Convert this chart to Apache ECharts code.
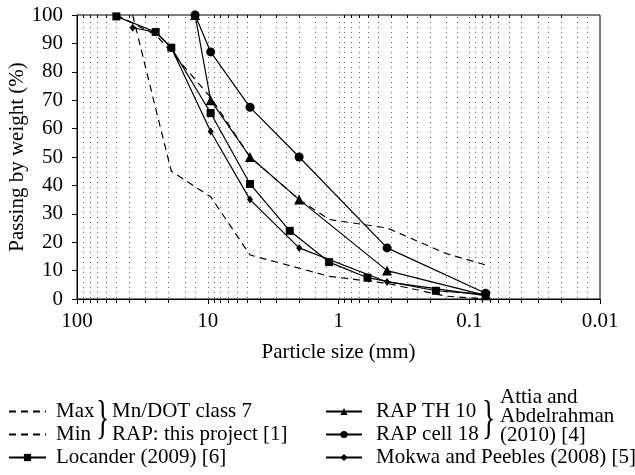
<!DOCTYPE html>
<html><head><meta charset="utf-8">
<script src="https://cdn.jsdelivr.net/npm/echarts@6/dist/echarts.min.js"></script>
<style>html,body{margin:0;padding:0;background:#fff}#c{width:635px;height:475px}</style>
</head><body><div id="c"></div>
<script>
const FONT = 'Liberation Serif';
// ---- data (particle size in mm, passing in %) ----
const maxSizes = [50, 25, 19, 9.5, 4.75, 2.0, 1.18, 0.425, 0.15, 0.075];
const maxPass  = [100, 93, 87, 71, 50, 35, 28, 25, 16, 12];
const minSizes = [37.5, 25, 19, 9.5, 4.75, 1.18, 0.425, 0.15, 0.075];
const minPass  = [100, 67, 45, 36, 15.5, 8, 5.5, 1, 0];
const locSizes = [50, 25, 19, 9.5, 4.75, 2.36, 1.18, 0.6, 0.18, 0.075];
const locPass  = [99.5, 94, 88.5, 65.5, 40.5, 24, 13, 7.5, 2.9, 1.6];
const attiaSizes = [12.5, 9.5, 4.75, 2.0, 0.425, 0.075];
const th10Pass   = [100, 70, 50, 35, 10, 1.3];
const cell18Pass = [100, 87, 67.5, 50, 18, 2];
const mokSizes = [37.5, 25, 19, 9.5, 4.75, 2.0, 0.425, 0.075];
const mokPass  = [95.5, 94, 88.5, 59, 35, 18, 6, 1.2];
// ---- axis furniture ----
const xTickLabels = ['100', '10', '1', '0.1', '0.01'];
const gridSizes = [90,80,70,60,50,40,30,25,20,15,12.5,10,
  9,8,7,6,5,4,3,2.5,2,1.5,1.25,1,
  0.9,0.8,0.7,0.6,0.5,0.4,0.3,0.25,0.2,0.15,0.125,0.1,
  0.09,0.08,0.07,0.06,0.05,0.04,0.03,0.025,0.02,0.015,0.0125];
const minorTickSizes = [90,80,70,60,50,40,30,20, 9,8,7,6,5,4,3,2,
  0.9,0.8,0.7,0.6,0.5,0.4,0.3,0.2, 0.09,0.08,0.07,0.06,0.05,0.04,0.03,0.02];

const pairs = (xs, ys) => xs.map((x, i) => [x, ys[i]]);
const chart = echarts.init(document.getElementById('c'), null, {renderer: 'canvas'});
const txt = {fontFamily: FONT, fontSize: 21, color: '#000'};
const lineBase = {type: 'line', clip: false, color: '#000', z: 5,
  lineStyle: {color: '#000', width: 1.2}, itemStyle: {color: '#000'}};
const hiddenIcon = {color: 'rgba(0,0,0,0)', borderWidth: 0};

chart.setOption({
  animation: false,
  backgroundColor: '#fff',
  grid: {left: 77, right: 35, top: 15, bottom: 176, show: true, borderColor: '#000', borderWidth: 1,
         containLabel: false, outerBoundsMode: 'none'},
  xAxis: {
    type: 'log', logBase: 10, min: 0.01, max: 100, inverse: true,
    name: 'Particle size (mm)', nameLocation: 'middle', nameGap: 43, nameMoveOverlap: false,
    nameTextStyle: txt,
    axisLine: {show: true, lineStyle: {color: '#000', width: 1}},
    axisTick: {show: true, inside: false, length: 5, lineStyle: {color: '#000'}},
    axisLabel: {...txt, margin: 12, formatter: v => {
      const i = [100, 10, 1, 0.1, 0.01].findIndex(t => Math.abs(Math.log10(t) - Math.log10(v)) < 1e-6);
      return i >= 0 ? xTickLabels[i] : '';
    }},
    splitLine: {show: false}, minorTick: {show: false}
  },
  yAxis: {
    type: 'value', min: 0, max: 100, interval: 10,
    name: 'Passing by weight (%)', nameLocation: 'middle', nameGap: 49, nameMoveOverlap: false,
    nameTextStyle: txt,
    axisLine: {show: true, lineStyle: {color: '#000', width: 1}},
    axisTick: {show: true, inside: false, length: 5, lineStyle: {color: '#000'}},
    axisLabel: {...txt, margin: 14},
    splitLine: {show: false}
  },
  legend: [
    {left: 8, top: 401, orient: 'vertical', padding: 0, itemWidth: 37, itemHeight: 9, itemGap: 2,
     textStyle: {...txt, lineHeight: 21, padding: [0, 0, 0, 5]},
     data: [{name: 'Max', itemStyle: hiddenIcon}, {name: 'Min', itemStyle: hiddenIcon}, 'Locander (2009) [6]']},
    {left: 325, top: 401, orient: 'vertical', padding: 0, itemWidth: 36, itemHeight: 9, itemGap: 2,
     textStyle: {...txt, lineHeight: 21, padding: [0, 0, 0, 9]},
     data: ['RAP TH 10', 'RAP cell 18', 'Mokwa and Peebles (2008) [5]']}
  ],
  graphic: [
    {type: 'text', left: 96, top: 398, style: {text: '}', font: '46px "Liberation Serif"', fill: '#000'}, scaleX: 0.6},
    {type: 'text', left: 112, top: 401, style: {text: 'Mn/DOT class 7', font: '21px "Liberation Serif"', fill: '#000'}},
    {type: 'text', left: 112, top: 424, style: {text: 'RAP: this project [1]', font: '21px "Liberation Serif"', fill: '#000'}},
    {type: 'text', left: 482, top: 398, style: {text: '}', font: '46px "Liberation Serif"', fill: '#000'}, scaleX: 0.6},
    {type: 'text', left: 500, top: 387, style: {text: 'Attia and\nAbdelrahman\n(2010) [4]', font: '21px "Liberation Serif"', lineHeight: 19, fill: '#000'}}
  ],
  series: [
    {type: 'custom', name: 'grid', silent: true, z: 1, clip: false,
     data: gridSizes.map(s => [s, 0]),
     renderItem: (p, api) => {
       const v = api.value(0);
       const a = api.coord([v, 0]), b = api.coord([v, 100]);
       const x = Math.round(a[0]) + 0.5;
       return {type: 'line', shape: {x1: x, y1: a[1] - 1, x2: x, y2: b[1] + 2},
         style: {stroke: '#666', lineWidth: 1, lineDash: [1, 4]}};
     }},
    {type: 'custom', name: 'ticks', silent: true, z: 2, clip: false,
     data: minorTickSizes.map(s => [s, 0]),
     renderItem: (p, api) => {
       const v = api.value(0);
       const a = api.coord([v, 0]), b = api.coord([v, 100]);
       const x = Math.round(a[0]) + 0.5;
       return {type: 'group', children: [
         {type: 'line', shape: {x1: x, y1: a[1], x2: x, y2: a[1] + 4}, style: {stroke: '#000', lineWidth: 1}},
         {type: 'line', shape: {x1: x, y1: b[1], x2: x, y2: b[1] + 3}, style: {stroke: '#000', lineWidth: 1}}
       ]};
     }},
    {...lineBase, name: 'Max', data: pairs(maxSizes, maxPass), symbol: 'none',
     lineStyle: {color: '#000', width: 1.2, type: [7, 5]}},
    {...lineBase, name: 'Min', data: pairs(minSizes, minPass), symbol: 'none',
     lineStyle: {color: '#000', width: 1.2, type: [7, 5]}},
    {...lineBase, name: 'Locander (2009) [6]', data: pairs(locSizes, locPass), symbol: 'rect', symbolSize: 8},
    {...lineBase, name: 'RAP TH 10', data: pairs(attiaSizes, th10Pass), symbol: 'triangle', symbolSize: 10},
    {...lineBase, name: 'RAP cell 18', data: pairs(attiaSizes, cell18Pass), symbol: 'circle', symbolSize: 9},
    {...lineBase, name: 'Mokwa and Peebles (2008) [5]', data: pairs(mokSizes, mokPass), symbol: 'diamond', symbolSize: [6, 8]}
  ]
});
</script></body></html>
